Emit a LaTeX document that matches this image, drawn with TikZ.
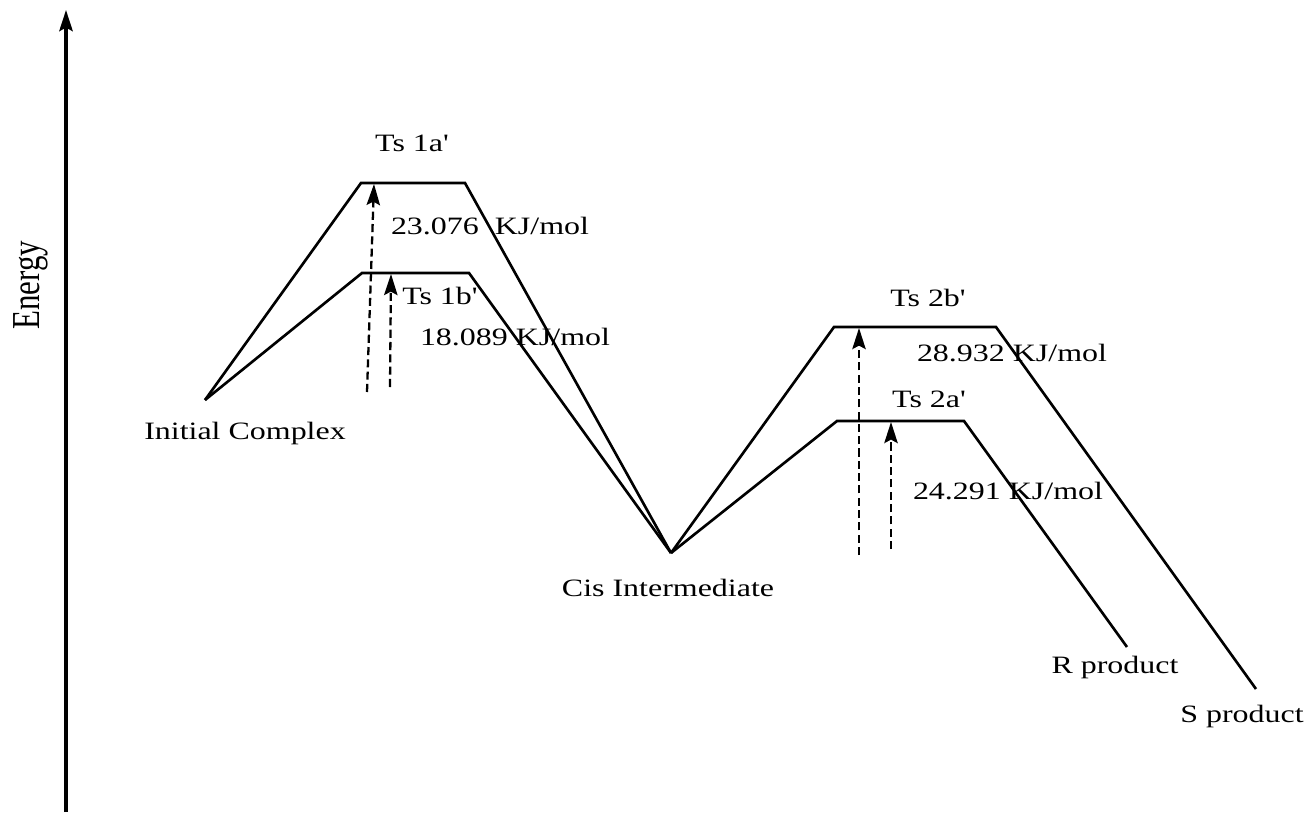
\documentclass[tikz,border=0pt]{standalone}
\usepackage{fontspec}
\setmainfont{Liberation Serif}
\newfontfamily\widefont{Liberation Serif}[FakeStretch=1.28]
\usetikzlibrary{arrows.meta}

\begin{document}
\begin{tikzpicture}[x=0.01cm, y=-0.01cm, >={Stealth[length=6pt, width=3.8pt, inset=1pt]},
    profile/.style={line width=0.75pt},
    barrier/.style={->, line width=0.65pt, dash pattern=on 2.3pt off 1.2pt},
    lbl/.style={inner sep=0pt, font=\widefont\fontsize{7.1}{8}\selectfont}]
        \useasboundingbox (0,0) rectangle (1309,812);

        % Energieachse
        \coordinate (axbot) at (66,812);
        \coordinate (axtop) at (66,10);
        \draw[->, line width=0.95pt] (axbot) -- (axtop);
        \node[xscale=1.28, rotate=90, inner sep=0pt, font=\fontsize{8.8}{10}\selectfont] (energy) at (31,285) {Energy};

        % Stationaere Punkte
        \coordinate (ic) at (205,400);
        \coordinate (cis) at (671,553);
        \coordinate (rp) at (1127,647);
        \coordinate (sp) at (1256,689);
        \coordinate (t1aL) at (361,183); \coordinate (t1aR) at (465,183);
        \coordinate (t1bL) at (362,273); \coordinate (t1bR) at (469,273);
        \coordinate (t2bL) at (834,327); \coordinate (t2bR) at (996,327);
        \coordinate (t2aL) at (837,421); \coordinate (t2aR) at (964,421);

        % Reaktionswege
        \draw[profile] (ic) -- (t1aL) -- (t1aR) -- (cis);
        \draw[profile] (ic) -- (t1bL) -- (t1bR) -- (cis);
        \draw[profile] (cis) -- (t2bL) -- (t2bR) -- (sp);
        \draw[profile] (cis) -- (t2aL) -- (t2aR) -- (rp);

        % Barrieren
        \coordinate (b1a) at (367,392); \coordinate (b1aTip) at (374,184);
        \coordinate (b1b) at (390,387); \coordinate (b1bTip) at (391,274);
        \coordinate (b2b) at (859,555); \coordinate (b2bTip) at (859,328);
        \coordinate (b2a) at (891,549); \coordinate (b2aTip) at (891,422);
        \draw[barrier] (b1a) -- (b1aTip);
        \draw[barrier] (b1b) -- (b1bTip);
        \draw[barrier] (b2b) -- (b2bTip);
        \draw[barrier] (b2a) -- (b2aTip);

        % Beschriftungen
        \node[lbl] (icLbl) at (245,433) {Initial Complex};
        \node[lbl] (cisLbl) at (668,588) {Cis Intermediate};
        \node[lbl] (rpLbl) at (1115,667) {R product};
        \node[lbl] (spLbl) at (1242,716) {S product};
        \node[lbl] (ts1a) at (412,143) {Ts 1a'};
        \node[lbl] (ts1b) at (440,296) {Ts 1b'};
        \node[lbl] (ts2b) at (928,298) {Ts 2b'};
        \node[lbl] (ts2a) at (929,399) {Ts 2a'};
        \node[lbl] (e1a) at (490,226) {23.076\ \ KJ/mol};
        \node[lbl] (e1b) at (515,337) {18.089 KJ/mol};
        \node[lbl] (e2b) at (1012,353) {28.932 KJ/mol};
        \node[lbl] (e2a) at (1008,491) {24.291 KJ/mol};
    \end{tikzpicture}
\end{document}
